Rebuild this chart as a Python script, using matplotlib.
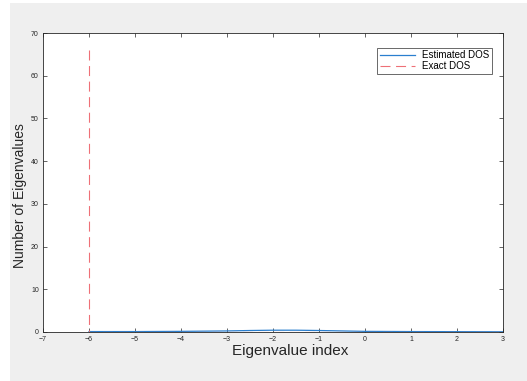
import matplotlib
matplotlib.use("Agg")
import matplotlib.pyplot as plt
from matplotlib.patches import Rectangle

# Data
est_x = [-6, -5, -4, -3, -2.5, -2, -1.5, -1, -0.5, 0, 1, 2, 3]
est_y = [0.1, 0.1, 0.15, 0.25, 0.35, 0.42, 0.42, 0.35, 0.25, 0.15, 0.1, 0.08, 0.05]
exact_x = [-6.0, -6.0, 3.0]
exact_y = [66, 0, 0]
xticks = [-7, -6, -5, -4, -3, -2, -1, 0, 1, 2, 3]
yticks = [0, 10, 20, 30, 40, 50, 60, 70]

plt.rcParams['font.family'] = ['Liberation Sans', 'DejaVu Sans']

fig = plt.figure(figsize=(5.27, 3.81), dpi=100, facecolor='#efefef')
# white strips on top and left edges
fig.patches.append(Rectangle((0, 0), 10/527, 1, transform=fig.transFigure,
                             facecolor='white', edgecolor='none', zorder=-10))
fig.patches.append(Rectangle((0, 1 - 3/381), 1, 3/381, transform=fig.transFigure,
                             facecolor='white', edgecolor='none', zorder=-10))
ax = fig.add_axes([43/527, 1 - 332/381, (503-43)/527, (332-33)/381])
ax.set_facecolor('white')

ax.plot(est_x, est_y, color='#2a7fcf', lw=0.9, label='Estimated DOS')
ax.plot(exact_x, exact_y, color='#ee7077', lw=0.8, dashes=(9, 5), label='Exact DOS')

ax.set_xlim(-7, 3)
ax.set_ylim(0, 70)
ax.set_xticks(xticks)
ax.set_yticks(yticks)
ax.tick_params(direction='in', length=3, width=0.5, labelsize=5, colors='#262626',
               top=True, right=True, pad=3)
for s in ax.spines.values():
    s.set_linewidth(0.6)
    s.set_color('#262626')

ax.set_xlabel('Eigenvalue index', fontsize=11, color='#262626')
ax.set_ylabel('Number of Eigenvalues', fontsize=10, color='#262626')
ax.xaxis.set_label_coords(0.537, -0.04)
ax.yaxis.set_label_coords(-0.034, 0.455)

leg = ax.legend(loc='upper right', fontsize=7, frameon=True, fancybox=False,
                edgecolor='#262626', handlelength=3.6, borderpad=0.25, labelspacing=0.1,
                borderaxespad=0, bbox_to_anchor=(0.976, 0.95))
leg.get_frame().set_linewidth(0.6)

fig.savefig('out.png', dpi=100, facecolor=fig.get_facecolor())
